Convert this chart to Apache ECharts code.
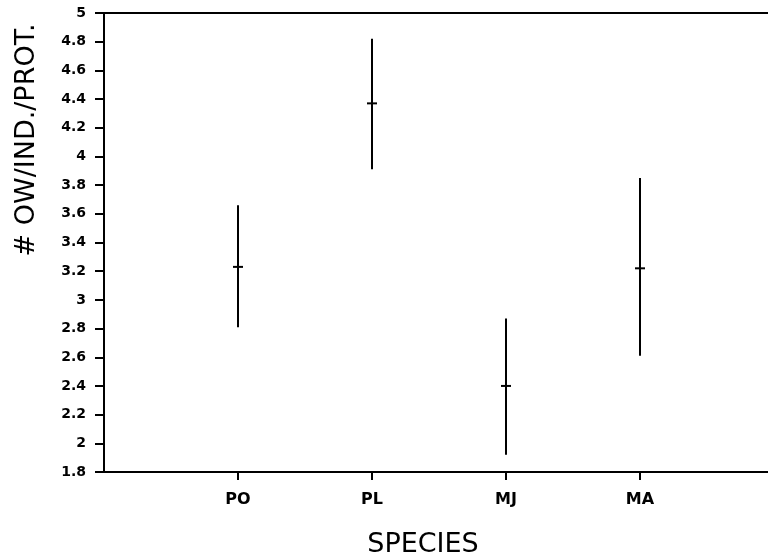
<!DOCTYPE html>
<html>
<head>
<meta charset="utf-8">
<script src="https://cdn.jsdelivr.net/npm/echarts@6/dist/echarts.min.js"></script>
<style>html,body{margin:0;padding:0;background:#fff}#c{width:768px;height:560px}</style>
</head>
<body>
<div id="c"></div>
<script>
const categories = ['PO', 'PL', 'MJ', 'MA'];
const means = [3.23, 4.37, 2.40, 3.22];
const lows = [2.81, 3.91, 1.92, 2.61];
const highs = [3.66, 4.82, 2.87, 3.85];
const yTitle = '# OW/IND./PROT.';
const xTitle = 'SPECIES';

const axisData = [''].concat(categories).concat(['']);
const barData = categories.map((c, i) => [i + 1, lows[i], highs[i], means[i]]);

const chart = echarts.init(document.getElementById('c'), null, {renderer: 'canvas'});
chart.setOption({
  animation: false,
  backgroundColor: '#fff',
  grid: {left: 104, width: 670, top: 13, height: 459, outerBoundsMode: 'none', containLabel: false,
    show: true, borderColor: '#000', borderWidth: 2, backgroundColor: 'transparent'},
  xAxis: {
    type: 'category',
    data: axisData,
    boundaryGap: false,
    axisLine: {lineStyle: {color: '#000', width: 2}},
    axisTick: {show: true, length: 8, inside: false, lineStyle: {color: '#000', width: 2},
      interval: function (i) { return i >= 1 && i <= categories.length; }},
    axisLabel: {interval: 0, margin: 20, color: '#000', fontFamily: 'DejaVu Sans', fontWeight: 'bold', fontSize: 16},
    splitLine: {show: false}
  },
  yAxis: {
    type: 'value',
    min: 1.8, max: 5, interval: 0.2,
    axisLine: {show: true, lineStyle: {color: '#000', width: 2}},
    axisTick: {show: true, length: 9, inside: false, lineStyle: {color: '#000', width: 2}},
    axisLabel: {margin: 18, color: '#000', fontFamily: 'DejaVu Sans', fontWeight: 'bold', fontSize: 14},
    splitLine: {show: false}
  },
  graphic: [
    {type: 'text', x: 27, y: 140, rotation: Math.PI / 2,
      style: {text: yTitle, fill: '#000', font: '27px "DejaVu Sans"', align: 'center', verticalAlign: 'middle'}},
    {type: 'text', x: 423, y: 545,
      style: {text: xTitle, fill: '#000', font: '27px "DejaVu Sans"', align: 'center', verticalAlign: 'middle'}}
  ],
  series: [{
    type: 'custom',
    data: barData,
    renderItem: function (params, api) {
      const x = api.value(0);
      const lo = api.coord([x, api.value(1)]);
      const hi = api.coord([x, api.value(2)]);
      const mid = api.coord([x, api.value(3)]);
      const st = {stroke: '#000', lineWidth: 2};
      return {type: 'group', children: [
        {type: 'line', shape: {x1: lo[0], y1: lo[1], x2: hi[0], y2: hi[1]}, style: st},
        {type: 'line', shape: {x1: mid[0] - 5, y1: mid[1], x2: mid[0] + 5, y2: mid[1]}, style: st}
      ]};
    }
  }]
});
</script>
</body>
</html>
